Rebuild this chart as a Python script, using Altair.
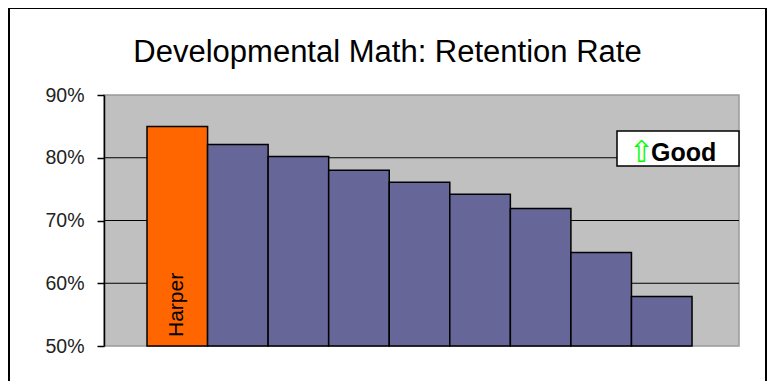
import altair as alt
import pandas as pd

# ---- data ----
categories = ["Harper", "Peer A", "Peer B", "Peer C", "Peer D", "Peer E", "Peer F", "Peer G", "Peer H"]
retention = [0.850, 0.821, 0.802, 0.780, 0.761, 0.742, 0.719, 0.649, 0.579]
highlight = ["Harper"]
y_ticks = [0.5, 0.6, 0.7, 0.8, 0.9]
grid_values = [0.6, 0.7, 0.8]
note_text = ["Good"]
note_arrow = ["\u21e7"]

df = pd.DataFrame({"school": categories, "rate": retention})
df["group"] = ["Harper" if c in highlight else "Peer" for c in categories]

W, H = 635, 251
FONT = "Liberation Sans"

x_enc = alt.X("school:N", sort=categories, axis=None,
              scale=alt.Scale(paddingInner=0, paddingOuter=0.743, align=0.478))
y_scale = alt.Scale(domain=[0.5, 0.9], nice=False, zero=False)
y_axis = alt.Axis(values=y_ticks, format=".0%", title=None, grid=False,
                  domainColor="black", domainWidth=1.5,
                  tickColor="black", tickWidth=1.5, tickSize=7,
                  labelPadding=13, labelFontSize=19.5, labelFont=FONT,
                  labelColor="#222222")

grid = alt.Chart(pd.DataFrame({"v": grid_values})).mark_rule(
    color="black", strokeWidth=1
).encode(y=alt.Y("v:Q", scale=y_scale, axis=y_axis))

bars = alt.Chart(df).mark_bar(stroke="black", strokeWidth=1.5).encode(
    x=x_enc,
    y=alt.Y("rate:Q", scale=y_scale, axis=y_axis),
    y2=alt.datum(0.5),
    color=alt.Color("group:N", legend=None,
                    scale=alt.Scale(domain=["Harper", "Peer"], range=["#FF6600", "#666699"])),
)

label = alt.Chart(df).transform_filter(alt.datum.school == "Harper").mark_text(
    angle=270, align="left", baseline="middle", dx=9, font=FONT, fontSize=21, color="black"
).encode(x=x_enc, y=alt.datum(0.5), text="school:N")

box = alt.Chart(pd.DataFrame({"t": note_text})).mark_rect(
    fill="white", stroke="black", strokeWidth=1.5
).encode(x=alt.value(513), x2=alt.value(635), y=alt.value(36), y2=alt.value(71))

good = alt.Chart(pd.DataFrame({"t": note_text})).mark_text(
    align="left", baseline="alphabetic", font=FONT, fontSize=25, fontWeight="bold", color="black"
).encode(x=alt.value(547), y=alt.value(66), text="t:N")

arrow = alt.Chart(pd.DataFrame({"t": note_arrow})).mark_text(
    align="center", baseline="alphabetic", font="DejaVu Sans", fontSize=30, color="#00FF00"
).encode(x=alt.value(537.5), y=alt.value(67), text="t:N")

border = alt.Chart(pd.DataFrame({"t": [0]})).mark_rect(
    fill=None, stroke="black", strokeWidth=2
).encode(x=alt.value(-95), x2=alt.value(662), y=alt.value(-87), y2=alt.value(400))

chart = alt.layer(grid, bars, label, box, good, arrow, border).properties(
    width=W, height=H,
    autosize=alt.AutoSizeParams(type="none"),
    padding={"left": 96, "top": 87, "right": 30, "bottom": 35},
    title=alt.TitleParams("Developmental Math: Retention Rate", font=FONT, fontSize=31,
                          fontWeight="normal", color="black", anchor="middle",
                          baseline="alphabetic", dx=-34, offset=-86),
).configure_view(fill="#C0C0C0", stroke="#999999", strokeWidth=1.5)

chart.save("out.html", embed_options={"renderer": "svg", "actions": False})
